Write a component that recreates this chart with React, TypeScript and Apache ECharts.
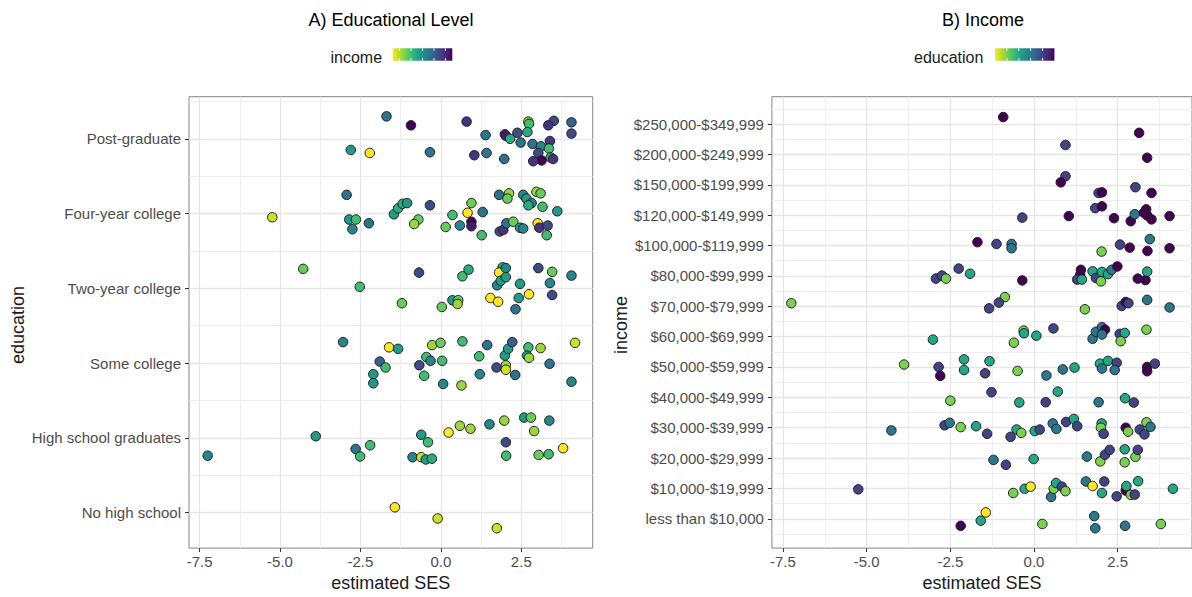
import React, { useEffect, useRef } from "react";
import * as echarts from "echarts";

const educationLevels = [
  "No high school",
  "High school graduates",
  "Some college",
  "Two-year college",
  "Four-year college",
  "Post-graduate",
];
const incomeLevels = [
  "less than $10,000",
  "$10,000-$19,999",
  "$20,000-$29,999",
  "$30,000-$39,999",
  "$40,000-$49,999",
  "$50,000-$59,999",
  "$60,000-$69,999",
  "$70,000-$79,999",
  "$80,000-$99,999",
  "$100,000-$119,999",
  "$120,000-$149,999",
  "$150,000-$199,999",
  "$200,000-$249,999",
  "$250,000-$349,999",
];
const sesTicks = [-7.5, -5, -2.5, 0, 2.5];
const sesMinorTicks = [-6.25, -3.75, -1.25, 1.25, 3.75];
const eduTicks = [1, 2, 3, 4, 5, 6];
const eduMinorTicks = [1.5, 2.5, 3.5, 4.5, 5.5, 6.5];
const incTicks = [1, 2, 3, 4, 5, 6, 7, 8, 9, 10, 11, 12, 13, 14];
const incMinorTicks = [0.5, 1.5, 2.5, 3.5, 4.5, 5.5, 6.5, 7.5, 8.5, 9.5, 10.5, 11.5, 12.5, 13.5, 14.5];
const incomeLegendBreaks = [2.5, 5, 7.5, 10, 12.5];
const educationLegendBreaks = [2, 3, 4, 5];

// Panel A: [estimated SES, jittered education position, income level]
const postGraduate = [
  [-1.69, 6.3, 9], [-0.93, 6.18, 14], [0.8, 6.23, 12], [2.72, 6.23, 3], [2.74, 6.2, 5],
  [3.51, 6.24, 11], [4.06, 6.22, 10], [3.34, 6.18, 12], [1.39, 6.05, 9], [1.99, 6.06, 12],
  [2.02, 6.04, 13], [2.15, 6.0, 6], [2.38, 6.08, 11], [2.69, 6.09, 6], [2.48, 5.95, 9],
  [2.85, 5.93, 9], [3.11, 5.9, 8], [3.39, 5.97, 12], [4.06, 6.07, 11], [3.03, 5.81, 11],
  [3.36, 5.87, 5], [3.41, 5.75, 6], [3.13, 5.71, 14], [2.87, 5.7, 12], [3.49, 5.73, 12],
  [1.04, 5.78, 12], [1.42, 5.81, 9], [1.97, 5.73, 9], [-0.34, 5.82, 9], [-2.8, 5.85, 7],
  [-2.21, 5.81, 1],
];
const fourYearCollege = [
  [-2.93, 5.25, 9], [-5.24, 4.95, 2], [-2.85, 4.92, 7], [-2.64, 4.92, 5], [-2.75, 4.79, 8],
  [-2.24, 4.87, 9], [-1.46, 4.99, 7], [-1.33, 5.07, 6], [-1.19, 5.13, 6], [-1.05, 5.14, 7],
  [-0.34, 5.11, 11], [-0.7, 4.92, 4], [-0.83, 4.86, 3], [0.15, 4.82, 4], [0.36, 4.98, 5],
  [0.59, 4.84, 8], [0.83, 5.01, 1], [0.95, 5.14, 4], [0.95, 4.89, 14], [0.95, 4.83, 13],
  [1.27, 4.71, 5], [1.3, 5.02, 9], [1.81, 5.25, 9], [2.12, 5.27, 3], [2.07, 5.2, 4],
  [1.83, 4.76, 11], [1.94, 4.78, 12], [2.04, 4.87, 9], [2.25, 4.89, 4], [2.46, 4.81, 7],
  [2.56, 4.8, 8], [2.56, 5.25, 8], [2.66, 5.2, 7], [2.82, 5.14, 8], [2.72, 5.11, 6],
  [2.97, 5.29, 3], [3.1, 5.27, 4], [3.16, 5.09, 5], [3.01, 4.87, 1], [3.06, 4.81, 12],
  [3.32, 4.84, 11], [3.29, 4.71, 5], [3.62, 5.03, 7],
];
const twoYearCollege = [
  [-4.28, 4.26, 4], [-0.68, 4.21, 11], [0.67, 4.16, 5], [0.86, 4.25, 6], [1.92, 4.28, 6],
  [1.81, 4.21, 1], [2.02, 4.27, 8], [3.03, 4.27, 11], [3.46, 4.22, 4], [4.06, 4.17, 8],
  [-2.52, 4.02, 5], [1.75, 4.04, 8], [1.86, 4.1, 7], [2.02, 4.15, 7], [2.46, 4.06, 7],
  [3.39, 4.07, 8], [-1.21, 3.8, 4], [0.03, 3.75, 4], [0.36, 3.84, 7], [0.54, 3.84, 4],
  [0.52, 3.79, 3], [1.54, 3.87, 1], [1.78, 3.82, 1], [2.42, 3.87, 7], [2.32, 3.72, 9],
  [2.74, 3.92, 1], [3.46, 3.91, 11],
];
const someCollege = [
  [-3.04, 3.28, 8], [-1.61, 3.21, 1], [-1.33, 3.19, 7], [-1.9, 3.02, 10], [-1.72, 2.94, 5],
  [-2.1, 2.85, 7], [-2.1, 2.73, 7], [-0.27, 3.24, 3], [-0.01, 3.27, 4], [-0.45, 3.08, 5],
  [-0.32, 3.03, 8], [-0.67, 2.97, 11], [-0.52, 2.83, 5], [0.04, 3.03, 5], [0.07, 2.72, 8],
  [0.64, 2.7, 3], [0.67, 3.29, 5], [1.19, 3.09, 5], [1.21, 2.85, 8], [1.44, 3.24, 9],
  [1.73, 2.94, 11], [2.02, 2.97, 3], [2.02, 2.91, 2], [1.99, 3.1, 7], [2.09, 3.19, 7],
  [2.22, 3.28, 10], [2.31, 2.84, 9], [2.72, 3.21, 5], [2.68, 3.1, 7], [2.74, 3.07, 3],
  [3.1, 3.2, 3], [3.38, 2.99, 9], [4.06, 2.75, 8], [4.17, 3.27, 2],
];
const highSchool = [
  [-7.25, 1.76, 8], [-3.89, 2.02, 7], [-2.65, 1.85, 9], [-2.51, 1.75, 5], [-2.2, 1.9, 5],
  [-0.88, 1.74, 8], [-0.61, 2.04, 7], [-0.4, 1.94, 5], [-0.61, 1.74, 2], [-0.47, 1.71, 7],
  [-0.28, 1.72, 6], [0.24, 2.07, 1], [0.59, 2.16, 3], [0.92, 2.12, 3], [1.51, 2.18, 8],
  [1.97, 2.23, 3], [2.02, 1.94, 11], [2.03, 1.76, 5], [2.59, 2.27, 7], [2.8, 2.27, 4],
  [2.9, 2.09, 3], [3.37, 2.23, 8], [3.04, 1.77, 4], [3.35, 1.78, 5], [3.8, 1.86, 1],
];
const noHighSchool = [
  [-1.43, 1.07, 1], [-0.1, 0.92, 2], [1.74, 0.79, 2],
];

// Panel B: [estimated SES, jittered income position, education level]
const incomeHigh = [
  [-0.92, 14.23, 6], [3.14, 13.71, 6], [0.94, 13.31, 5], [3.38, 12.89, 6], [0.94, 12.28, 5],
  [0.8, 12.08, 6], [1.93, 11.73, 5], [2.03, 11.75, 6], [3.03, 11.92, 5], [3.51, 11.73, 6],
  [1.83, 11.23, 5], [2.03, 11.29, 6], [-0.35, 10.92, 5], [1.04, 10.97, 6], [2.39, 10.9, 6],
  [2.89, 10.8, 6], [3.01, 11.03, 4], [3.35, 11.19, 6], [3.38, 10.99, 6], [3.51, 10.86, 6],
  [4.05, 10.97, 6], [3.28, 11.08, 6], [-1.69, 10.11, 6], [-1.12, 10.05, 5], [-0.67, 10.05, 4],
  [-0.67, 9.91, 4], [2.57, 10.03, 5], [2.86, 9.93, 6], [3.46, 10.21, 4], [3.39, 9.82, 6],
  [4.05, 9.91, 6], [2.02, 9.8, 2],
];
const incomeMiddle = [
  [-2.93, 8.91, 5], [-2.75, 9.01, 5], [-2.63, 8.91, 2], [-2.25, 9.24, 5], [-1.91, 9.07, 3],
  [-0.35, 8.85, 6], [1.4, 9.2, 6], [1.38, 9.04, 6], [1.29, 8.88, 5], [1.43, 8.88, 3],
  [1.75, 9.15, 3], [1.85, 8.93, 5], [2.0, 8.82, 2], [2.03, 9.13, 3], [2.21, 9.06, 3],
  [2.32, 9.2, 4], [2.49, 9.31, 6], [3.1, 8.91, 6], [3.33, 8.86, 6], [3.38, 9.14, 3],
  [-7.25, 8.1, 2], [-0.87, 8.3, 2], [-1.05, 8.12, 5], [-1.34, 7.93, 5], [1.52, 7.9, 2],
  [2.62, 8.01, 5], [2.74, 8.14, 6], [2.82, 8.1, 5], [3.38, 8.21, 4], [4.05, 7.96, 4],
  [-0.31, 7.2, 2], [-0.3, 7.11, 3], [0.58, 7.27, 5], [0.07, 7.03, 3], [-0.6, 6.8, 2],
  [-3.02, 6.9, 3], [1.75, 6.93, 4], [1.85, 7.16, 4], [2.03, 7.31, 4], [2.12, 7.23, 6],
  [2.03, 7.07, 4], [2.56, 7.09, 5], [2.71, 7.12, 3], [2.59, 6.85, 2], [3.36, 7.23, 2],
  [-3.88, 6.08, 2], [-2.85, 6.0, 5], [-2.8, 5.71, 6], [-2.09, 6.25, 3], [-2.09, 5.9, 3],
  [-1.33, 6.19, 3], [-1.46, 5.79, 5], [-0.49, 5.87, 2], [0.37, 5.72, 4], [0.86, 5.92, 4],
  [1.21, 5.98, 3], [1.97, 6.11, 3], [2.21, 6.2, 3], [2.03, 5.95, 4], [2.47, 6.14, 5],
  [2.41, 5.9, 4], [3.38, 6.0, 6], [3.38, 5.86, 6], [3.61, 6.11, 5],
];
const incomeLow = [
  [-1.27, 5.17, 5], [-2.5, 4.89, 2], [-0.44, 4.83, 3], [0.35, 4.84, 5], [0.71, 5.19, 3],
  [1.93, 4.84, 4], [2.72, 4.97, 3], [2.98, 4.83, 5], [-4.26, 3.91, 4], [-2.67, 4.08, 5],
  [-2.52, 4.16, 4], [-2.19, 4.02, 2], [-1.73, 4.05, 3], [-1.4, 3.8, 5], [-0.7, 3.7, 5],
  [-0.52, 3.94, 3], [-0.38, 3.83, 2], [0.02, 3.89, 3], [0.17, 3.94, 5], [0.56, 4.14, 4],
  [0.67, 3.96, 4], [0.96, 4.19, 5], [1.19, 4.29, 3], [1.29, 4.05, 5], [2.02, 4.14, 3],
  [2.0, 4.0, 2], [2.08, 3.8, 5], [2.74, 4.0, 6], [2.81, 3.87, 2], [3.16, 3.94, 5],
  [3.3, 3.78, 5], [3.36, 4.18, 2], [3.48, 4.03, 4], [-1.21, 2.94, 4], [-0.84, 2.78, 5],
  [-0.01, 2.97, 3], [1.58, 3.05, 4], [1.98, 2.89, 2], [2.12, 3.11, 5], [2.26, 3.27, 5],
  [2.71, 3.29, 3], [2.71, 2.86, 2], [3.03, 3.04, 2], [3.1, 3.27, 5], [-5.25, 1.97, 5],
  [-0.62, 1.85, 2], [-0.28, 1.99, 3], [-0.1, 2.06, 1], [0.51, 1.72, 4], [0.59, 1.99, 2],
  [0.66, 2.18, 3], [0.83, 2.06, 5], [0.94, 1.91, 2], [1.55, 2.23, 4], [1.75, 2.08, 1],
  [2.03, 1.85, 3], [2.1, 2.23, 5], [2.47, 1.74, 5], [2.74, 1.93, 6], [2.76, 2.08, 3],
  [2.89, 1.79, 2], [3.01, 1.8, 5], [3.11, 2.24, 3], [4.15, 1.99, 3], [-1.44, 1.21, 1],
  [-1.59, 0.94, 3], [-2.19, 0.77, 6], [0.25, 0.83, 2], [1.8, 1.09, 4], [1.83, 0.69, 4],
  [2.72, 0.77, 4], [3.79, 0.83, 2],
];

const viridisRev = [
  "#FDE725", "#BDDF26", "#7AD151", "#44BF70", "#22A884", "#21918C",
  "#2A788E", "#355F8D", "#414487", "#482475", "#440154",
];

const FONT = "Liberation Sans, Arial, sans-serif";
const X_MIN = -7.83;
const X_MAX = 4.72;

export default function App() {
  const ref = useRef<HTMLDivElement>(null);

  useEffect(() => {
    if (!ref.current) return;
    const chart = echarts.init(ref.current, null, { renderer: "svg" });

    const panelA = [
      ...postGraduate, ...fourYearCollege, ...twoYearCollege,
      ...someCollege, ...highSchool, ...noHighSchool,
    ];
    const panelB = [...incomeHigh, ...incomeMiddle, ...incomeLow];

    const tickLabel = { fontFamily: FONT, fontSize: 15, color: "#4d4d4d" };
    const majorSplit = { show: true, lineStyle: { color: "#E6E6E6", width: 1.3 } };
    const minorSplit = { show: true, lineStyle: { color: "#EEEEEE", width: 1 } };
    const tickStyle = { lineStyle: { color: "#333333", width: 1 } };

    const mainX = (gridIndex: number) => ({
      type: "value",
      gridIndex,
      min: X_MIN,
      max: X_MAX,
      position: "bottom",
      axisLine: { show: false, onZero: false },
      axisTick: { show: true, length: 4, customValues: sesTicks, ...tickStyle },
      axisLabel: {
        show: true,
        customValues: sesTicks,
        margin: 6,
        ...tickLabel,
        formatter: (v: number) => v.toFixed(1),
      },
      splitLine: majorSplit,
      name: "estimated SES",
      nameLocation: "middle",
      nameGap: 25,
      nameTextStyle: { fontFamily: FONT, fontSize: 18, color: "#1a1a1a" },
    });
    const minorX = (gridIndex: number) => ({
      type: "value",
      gridIndex,
      min: X_MIN,
      max: X_MAX,
      position: "top",
      axisLine: { show: false, onZero: false },
      axisTick: { show: false, customValues: sesMinorTicks },
      axisLabel: { show: false, customValues: sesMinorTicks },
      splitLine: minorSplit,
    });
    const mainY = (gridIndex: number, min: number, max: number, ticks: number[], labels: string[]) => ({
      type: "value",
      gridIndex,
      min,
      max,
      position: "left",
      axisLine: { show: false, onZero: false },
      axisTick: { show: true, length: 4, customValues: ticks, ...tickStyle },
      axisLabel: {
        show: true,
        customValues: ticks,
        margin: 8,
        ...tickLabel,
        formatter: (v: number) => labels[Math.round(v) - 1] ?? "",
      },
      splitLine: majorSplit,
    });
    const minorY = (gridIndex: number, min: number, max: number, ticks: number[]) => ({
      type: "value",
      gridIndex,
      min,
      max,
      position: "right",
      axisLine: { show: false, onZero: false },
      axisTick: { show: false, customValues: ticks },
      axisLabel: { show: false, customValues: ticks },
      splitLine: minorSplit,
    });

    const gridStyle = { show: true, borderColor: "#858585", borderWidth: 1, backgroundColor: "#ffffff" };

    const barA = { x: 392.7, y: 48.3, w: 59.6, h: 12.4 };
    const barB = { x: 995, y: 48.3, w: 59.4, h: 12.4 };
    const gradient = () =>
      new echarts.graphic.LinearGradient(
        0, 0, 1, 0,
        viridisRev.map((c, i) => ({ offset: i / (viridisRev.length - 1), color: c }))
      );
    const legendTicks = (bar: any, breaks: number[], lo: number, hi: number) => {
      const out: any[] = [];
      breaks.forEach((b) => {
        const x = bar.x + ((b - lo) / (hi - lo)) * bar.w;
        out.push({
          type: "line",
          shape: { x1: x, y1: bar.y, x2: x, y2: bar.y + bar.h * 0.2 },
          style: { stroke: "#ffffff", lineWidth: 1 },
          silent: true,
        });
        out.push({
          type: "line",
          shape: { x1: x, y1: bar.y + bar.h * 0.8, x2: x, y2: bar.y + bar.h },
          style: { stroke: "#ffffff", lineWidth: 1 },
          silent: true,
        });
      });
      return out;
    };

    const option: any = {
      animation: false,
      backgroundColor: "#ffffff",
      grid: [
        { left: 189, top: 96.7, width: 403.7, height: 456.6, ...gridStyle },
        { left: 771.9, top: 96.7, width: 423.3, height: 456.6, ...gridStyle },
      ],
      xAxis: [mainX(0), minorX(0), mainX(1), minorX(1)],
      yAxis: [
        mainY(0, 0.524, 6.563, eduTicks, educationLevels),
        minorY(0, 0.524, 6.563, eduMinorTicks),
        mainY(1, 0.036, 14.9, incTicks, incomeLevels),
        minorY(1, 0.036, 14.9, incMinorTicks),
      ],
      visualMap: [
        {
          type: "continuous", show: false, seriesIndex: 0, dimension: 2,
          min: 1, max: 14, inRange: { color: viridisRev },
        },
        {
          type: "continuous", show: false, seriesIndex: 1, dimension: 2,
          min: 1, max: 6, inRange: { color: viridisRev },
        },
      ],
      series: [
        {
          type: "scatter",
          xAxisIndex: 0,
          yAxisIndex: 0,
          data: panelA,
          symbolSize: 9.5,
          silent: true,
          itemStyle: { borderColor: "#1e1e1e", borderWidth: 1, opacity: 1 },
          z: 5,
        },
        {
          type: "scatter",
          xAxisIndex: 2,
          yAxisIndex: 2,
          data: panelB,
          symbolSize: 9.5,
          silent: true,
          itemStyle: { borderColor: "#1e1e1e", borderWidth: 1, opacity: 1 },
          z: 5,
        },
      ],
      graphic: [
        {
          type: "text", x: 391, y: 20, silent: true,
          style: { text: "A) Educational Level", fontFamily: FONT, fontSize: 18, fill: "#000000", align: "center", verticalAlign: "middle" },
        },
        {
          type: "text", x: 983, y: 20, silent: true,
          style: { text: "B) Income", fontFamily: FONT, fontSize: 18, fill: "#000000", align: "center", verticalAlign: "middle" },
        },
        {
          type: "text", x: 330.5, y: 57, silent: true,
          style: { text: "income", fontFamily: FONT, fontSize: 16, fill: "#1a1a1a", align: "left", verticalAlign: "middle" },
        },
        {
          type: "rect", silent: true,
          shape: { x: barA.x, y: barA.y, width: barA.w, height: barA.h },
          style: { fill: gradient() },
        },
        ...legendTicks(barA, incomeLegendBreaks, 1, 14),
        {
          type: "text", x: 914, y: 57, silent: true,
          style: { text: "education", fontFamily: FONT, fontSize: 16, fill: "#1a1a1a", align: "left", verticalAlign: "middle" },
        },
        {
          type: "rect", silent: true,
          shape: { x: barB.x, y: barB.y, width: barB.w, height: barB.h },
          style: { fill: gradient() },
        },
        ...legendTicks(barB, educationLegendBreaks, 1, 6),
        {
          type: "text", x: 18, y: 325, rotation: Math.PI / 2, silent: true,
          style: { text: "education", fontFamily: FONT, fontSize: 18, fill: "#1a1a1a", align: "center", verticalAlign: "middle" },
        },
        {
          type: "text", x: 621, y: 325, rotation: Math.PI / 2, silent: true,
          style: { text: "income", fontFamily: FONT, fontSize: 18, fill: "#1a1a1a", align: "center", verticalAlign: "middle" },
        },
      ],
    };

    chart.setOption(option);
    return () => {
      chart.dispose();
    };
  }, []);

  return (
    <div
      ref={ref}
      style={{ position: "fixed", left: 0, top: 0, width: 1192, height: 597, background: "#ffffff" }}
    />
  );
}
